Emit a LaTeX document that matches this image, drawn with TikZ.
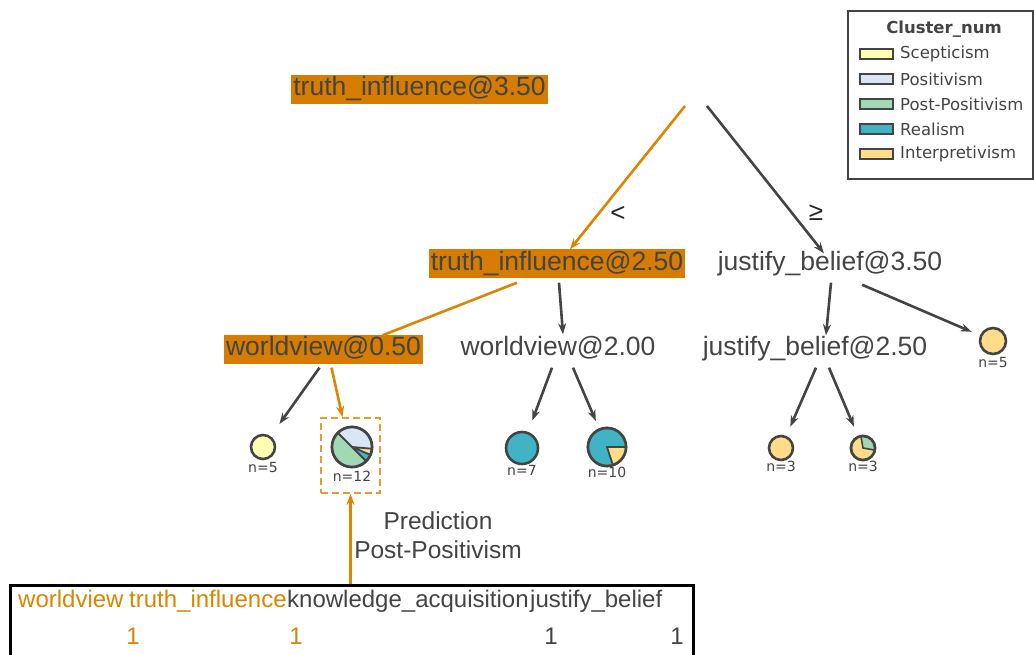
\documentclass[tikz,border=0pt]{standalone}
\usepackage{fontspec}
\setmainfont{Liberation Sans}
\newfontfamily\dejavu{DejaVu Sans}
\usetikzlibrary{arrows.meta,calc}
\definecolor{tgray}{HTML}{444444}
\definecolor{hlorange}{HTML}{D67C00}
\definecolor{eorange}{HTML}{DB8500}
\definecolor{cscep}{HTML}{FFFFB3}
\definecolor{cposi}{HTML}{D9E6F5}
\definecolor{cpost}{HTML}{A0D9B4}
\definecolor{creal}{HTML}{40B4C4}
\definecolor{cinte}{HTML}{FFDC8A}
\tikzset{
  split/.style={font=\fontsize{26.5}{26.5}\selectfont, text=tgray, inner xsep=2pt, inner ysep=1pt, text height=20pt, text depth=7pt},
  hl/.style={split, fill=hlorange},
  edge/.style={draw=tgray, line width=2.6pt, -{Stealth[length=11pt,width=8pt]}},
  oedge/.style={edge, draw=eorange},
  leaf/.style={circle, draw=tgray, line width=2.6pt, inner sep=0pt},
  nlab/.style={font=\dejavu\fontsize{14}{14}\selectfont, text=tgray, inner sep=0pt},
  legtxt/.style={font=\dejavu\fontsize{16.5}{16.5}\selectfont, text=tgray, anchor=west, inner sep=0pt},
  swatch/.style={draw=tgray, line width=2.8pt, minimum width=33pt, minimum height=10pt, inner sep=0pt},
  cond/.style={font=\fontsize{26}{26}\selectfont, text=black!85, inner sep=0pt},
  tbl/.style={font=\fontsize{24}{24}\selectfont, inner sep=0pt, text height=17pt, text depth=5pt},
}
\begin{document}
\begin{tikzpicture}[x=1pt,y=-1pt]
\useasboundingbox (0,0) rectangle (1034,655);

% nodes of the tree
\coordinate (root) at (696,98);
\node[hl] (tir) at (419.5,89.5) {truth\_influence@3.50};
\node[hl] (ti25) at (557,264) {truth\_influence@2.50};
\node[split] (jb35) at (830,264) {justify\_belief@3.50};
\node[hl] (wv05) at (323.5,349) {worldview@0.50};
\node[split] (wv20) at (558,349) {worldview@2.00};
\node[split] (jb25) at (815,349) {justify\_belief@2.50};

% leaves
\node[leaf, fill=cscep, minimum size=24pt] (l5a) at (263,447) {};
\node[leaf, minimum size=40pt] (p12) at (352,447) {};
\node[leaf, fill=creal, minimum size=32pt] (l7) at (522,448) {};
\node[leaf, minimum size=38pt] (p10) at (607,447) {};
\node[leaf, fill=cinte, minimum size=24pt] (l3) at (781,448) {};
\node[leaf, minimum size=24pt] (p3) at (863,448) {};
\node[leaf, fill=cinte, minimum size=26pt] (l5r) at (993,341) {};

% pie wedges
\begin{scope}
\fill[cpost] (p12.center) -- ([shift={(135:20pt)}]p12.center) arc[start angle=135,end angle=315,radius=20pt] -- cycle;
\fill[creal] (p12.center) -- ([shift={(315:20pt)}]p12.center) arc[start angle=315,end angle=337,radius=20pt] -- cycle;
\fill[cinte] (p12.center) -- ([shift={(337:20pt)}]p12.center) arc[start angle=337,end angle=355,radius=20pt] -- cycle;
\fill[cposi] (p12.center) -- ([shift={(355:20pt)}]p12.center) arc[start angle=355,end angle=495,radius=20pt] -- cycle;
\draw[tgray, line width=1.8pt] ([shift={(135:20pt)}]p12.center) -- (p12.center) -- ([shift={(355:20pt)}]p12.center)
  (p12.center) -- ([shift={(337:20pt)}]p12.center) (p12.center) -- ([shift={(315:20pt)}]p12.center);
\fill[creal] (p10.center) -- ([shift={(0:19pt)}]p10.center) arc[start angle=0,end angle=288,radius=19pt] -- cycle;
\fill[cinte] (p10.center) -- ([shift={(288:19pt)}]p10.center) arc[start angle=288,end angle=360,radius=19pt] -- cycle;
\draw[tgray, line width=1.8pt] ([shift={(0:19pt)}]p10.center) -- (p10.center) -- ([shift={(288:19pt)}]p10.center);
\fill[cinte] (p3.center) -- ([shift={(100:12pt)}]p3.center) arc[start angle=100,end angle=350,radius=12pt] -- cycle;
\fill[cpost] (p3.center) -- ([shift={(-10:12pt)}]p3.center) arc[start angle=-10,end angle=100,radius=12pt] -- cycle;
\draw[tgray, line width=1.6pt] ([shift={(100:12pt)}]p3.center) -- (p3.center) -- ([shift={(-10:12pt)}]p3.center);
\end{scope}
\node[leaf, minimum size=40pt] at (p12.center) {};
\node[leaf, minimum size=38pt] at (p10.center) {};
\node[leaf, minimum size=24pt] at (p3.center) {};

% leaf labels
\node[nlab] (n5a) at (263,467) {n=5};
\node[nlab] (n12) at (352,476) {n=12};
\node[nlab] (n7) at (522,470) {n=7};
\node[nlab] (n10) at (607,472) {n=10};
\node[nlab] (n3a) at (781,466) {n=3};
\node[nlab] (n3b) at (863,466) {n=3};
\node[nlab] (n5r) at (993,362) {n=5};

% prediction box
\node[draw=eorange!80, dashed, dash pattern=on 7pt off 4pt, line width=1.8pt, minimum width=59pt, minimum height=75pt, inner sep=0pt] (box12) at (350.5,455.5) {};

% edges
\draw[oedge] ($(root)+(-11,8)$) -- ($(ti25.north)+(13,0)$);
\draw[edge] ($(root)+(11,8)$) -- ($(jb35.north)+(-6,4)$);
\node[cond] (lt) at (618,214) {<};
\node[cond] (ge) at (816,213) {≥};
\draw[eorange, line width=2.6pt] ($(ti25.south)+(-40,4)$) -- ($(wv05.north)+(59,1)$);
\draw[edge] ($(ti25.south)+(2,4)$) -- ($(wv20.north)+(5,0)$);
\draw[edge] ($(jb35.south)+(1,4)$) -- ($(jb25.north)+(11,1)$);
\draw[edge, shorten >=9pt] ($(jb35.south)+(32,6)$) -- (l5r);
\draw[edge, shorten >=15pt] ($(wv05.south)+(-4,4)$) -- (l5a);
\draw[oedge] ($(wv05.south)+(8,4)$) -- ($(box12.north)+(-8,0)$);
\draw[edge, shorten >=12pt] ($(wv20.south)+(-6,4)$) -- (l7);
\draw[edge, shorten >=8pt] ($(wv20.south)+(15,4)$) -- (p10);
\draw[edge, shorten >=10pt] ($(jb25.south)+(1,4)$) -- (l3);
\draw[edge, shorten >=10pt] ($(jb25.south)+(14,4)$) -- (p3);

% prediction text
\node[font=\fontsize{24.5}{29}\selectfont, text=tgray, align=center, inner sep=0pt] (pred) at (438,535.5) {Prediction\\Post-Positivism};

% table
\node[draw=black, line width=2.5pt, minimum width=683pt, minimum height=100pt, inner sep=0pt, anchor=north west] (tab) at (9,584) {};
\draw[oedge] (box12.south |- tab.north) -- (box12.south);
\node[tbl, text=eorange, anchor=west] (h1) at (18,601) {worldview};
\node[tbl, text=eorange, anchor=west] (h2) at (129,601) {truth\_influence};
\node[tbl, text=tgray, anchor=west] (h3) at (287,601) {knowledge\_acquisition};
\node[tbl, text=tgray, anchor=west] (h4) at (530,601) {justify\_belief};
\node[tbl, text=eorange] (v1) at (133,638) {1};
\node[tbl, text=eorange] (v2) at (296,638) {1};
\node[tbl, text=tgray] (v3) at (551,638) {1};
\node[tbl, text=tgray] (v4) at (677,638) {1};

% legend
\node[draw=tgray, line width=1.8pt, minimum width=185pt, minimum height=168pt, inner sep=0pt, anchor=north west] (leg) at (847,10) {};
\node[font=\dejavu\bfseries\fontsize{16.5}{16.5}\selectfont, text=tgray, inner sep=0pt] (legt) at (944,29) {Cluster\_num};
\node[swatch, fill=cscep] (s1) at (876.5,54) {};
\node[swatch, fill=cposi] (s2) at (876.5,79) {};
\node[swatch, fill=cpost] (s3) at (876.5,104) {};
\node[swatch, fill=creal] (s4) at (876.5,129) {};
\node[swatch, fill=cinte] (s5) at (876.5,154) {};
\node[legtxt] (t1) at (900,54) {Scepticism};
\node[legtxt] (t2) at (900,79) {Positivism};
\node[legtxt] (t3) at (900,104) {Post-Positivism};
\node[legtxt] (t4) at (900,129) {Realism};
\node[legtxt] (t5) at (900,154) {Interpretivism};
\end{tikzpicture}
\end{document}
